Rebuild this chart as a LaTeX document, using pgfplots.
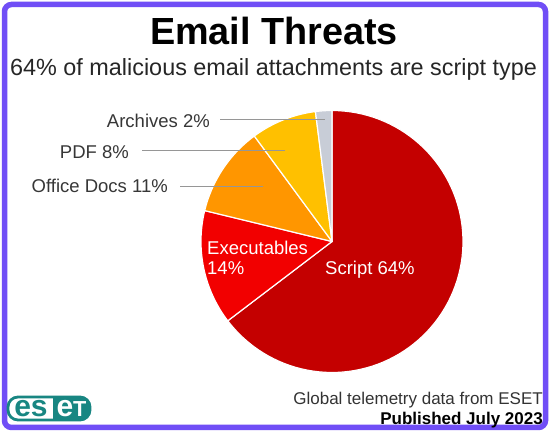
\documentclass[border=0pt]{standalone}
\usepackage{fontspec}
\setmainfont{Liberation Sans}
\usepackage{pgfplots}
\pgfplotsset{compat=1.18}
\definecolor{bordc}{RGB}{112,78,246}
\definecolor{scriptc}{RGB}{196,0,0}
\definecolor{execc}{RGB}{242,0,0}
\definecolor{officec}{RGB}{255,150,0}
\definecolor{pdfc}{RGB}{255,192,0}
\definecolor{archc}{RGB}{200,205,215}
\definecolor{labc}{RGB}{55,55,55}
\definecolor{linec}{RGB}{150,150,150}
\definecolor{esetc}{RGB}{24,134,130}
\newcommand{\fs}[1]{\fontsize{#1}{#1}\selectfont}
% slice: start (cumulative %), value (%), colour; the shares add up to 99
\newcommand{\pieslice}[3]{%
  \pgfmathsetmacro{\angA}{90-(#1+#2)*3.636364}%
  \pgfmathsetmacro{\angB}{90-(#1)*3.636364}%
  \addplot[fill=#3, draw=white, line width=1.2pt, line join=round,
    domain=\angA:\angB, samples=90, variable=\t]
    ({cos(\t)},{sin(\t)}) -- (axis cs:0,0) -- cycle;
}
\tikzset{lbl/.style={inner sep=0pt}}
\begin{document}
\begin{tikzpicture}[x=1pt,y=1pt]
\fill[white] (0,0) rectangle (549,431);
\draw[bordc, line width=5.5pt, rounded corners=7pt] (4.5,3.5) rectangle (545.5,426.5);
\node[lbl, anchor=base, font=\fs{37.8}\bfseries] at (274,386) {Email Threats};
\node[lbl, anchor=base, font=\fs{23.4}, text=black!85] at (273.5,355.6) {64\% of malicious email attachments are script type};

\begin{axis}[at={(332pt,189.5pt)}, anchor=origin, x=131pt, y=131pt,
  xmin=-1, xmax=1, ymin=-1, ymax=1, hide axis, clip=false]
\pieslice{0}{64}{scriptc}
\pieslice{64}{14}{execc}
\pieslice{78}{11}{officec}
\pieslice{89}{8}{pdfc}
\pieslice{97}{2}{archc}
\end{axis}

% leader lines and outside labels
\draw[linec, line width=0.8pt] (220,311.5) -- (325,311.5);
\draw[linec, line width=0.8pt] (142,280.5) -- (285,280.5);
\draw[linec, line width=0.8pt] (180,245) -- (263,245);
\node[lbl, anchor=base east, font=\fs{18.5}, text=labc] at (210,303.4) {Archives 2\%};
\node[lbl, anchor=base east, font=\fs{18.5}, text=labc] at (129,272.4) {PDF 8\%};
\node[lbl, anchor=base east, font=\fs{18.5}, text=labc] at (168,238.4) {Office Docs 11\%};
% inside labels
\node[lbl, anchor=base west, font=\fs{18.5}, text=white] at (207,176.4) {Executables};
\node[lbl, anchor=base west, font=\fs{18.5}, text=white] at (207,156.4) {14\%};
\node[lbl, anchor=base west, font=\fs{18.5}, text=white] at (325,156.4) {Script 64\%};

% footer
\node[lbl, anchor=base east, font=\fs{17}, text=black!80] at (543,26.9) {Global telemetry data from ESET};
\node[lbl, anchor=base east, font=\fs{17}\bfseries, text=black] at (543,6.9) {Published July 2023};

% logo
\begin{scope}
\clip (53,0) rectangle (100,45);
\fill[esetc, rounded corners=10pt] (8,11) rectangle (90,34);
\end{scope}
\draw[esetc, line width=2.8pt, rounded corners=10pt] (8,11) rectangle (90,34);
\node[lbl, anchor=base, font=\fs{30}\bfseries, text=esetc] at (31,14.7) {es};
\node[lbl, anchor=base, font=\fs{30}\bfseries, text=white] at (71.5,14.7) {e{\fs{21.7}T}};
\pgfresetboundingbox
\useasboundingbox (0,0) rectangle (549,431);
\end{tikzpicture}
\end{document}
